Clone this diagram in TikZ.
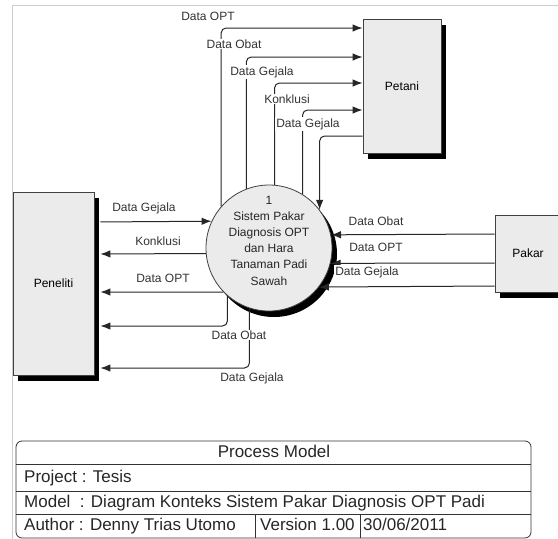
\documentclass[tikz,border=0pt]{standalone}
\usepackage{fontspec}
\setmainfont{Liberation Sans}
\usetikzlibrary{arrows.meta,shadows}

\begin{document}
\begin{tikzpicture}[x=1pt,y=-1pt,
	entitas/.style={draw=black!75,fill=black!8,line width=0.8pt,font=\fontsize{12}{14}\selectfont,
		drop shadow={shadow xshift=5pt,shadow yshift=-6pt,fill=black,opacity=1}},
	proses/.style={circle,draw=black!75,fill=black!8,line width=0.8pt,minimum size=126pt,inner sep=0pt,
		drop shadow={shadow xshift=5pt,shadow yshift=-6pt,fill=black,opacity=1}},
	prosesteks/.style={align=center,inner sep=0pt,font=\fontsize{12}{16.2}\selectfont,text=black!85},
	aliran/.style={draw=black!85,line width=1pt,rounded corners=5pt,-{Latex[length=10pt,width=7.5pt]}},
	ket/.style={fill=white,inner sep=1pt,font=\fontsize{12}{14}\selectfont,text=black!80},
	baris/.style={anchor=west,inner sep=0pt,text height=12.2pt,text depth=2.6pt,
		font=\fontsize{17}{20}\selectfont,text=black!85}]
				\useasboundingbox (0,0) rectangle (558,539);
				\draw[black!20,line width=1pt] (12,539) -- (12,5) -- (558,5);
				
				\node[entitas,minimum width=81pt,minimum height=183pt] (peneliti) at (53.5,283.5) {Peneliti};
				\node[entitas,minimum width=78pt,minimum height=134pt] (petani) at (402,86) {Petani};
				\node[entitas,minimum width=66pt,minimum height=77pt] (pakar) at (528,253.5) {Pakar};
				\node[proses] (sistem) at (269,248) {};
				\node[prosesteks] (sistemteks) at (269,240.5) {1\\Sistem Pakar\\Diagnosis OPT\\dan Hara\\Tanaman Padi\\Sawah};
				
				% ke dan dari petani
				\draw[aliran] (sistem.139.6) |- (petani.west |- 0,28);
				\draw[aliran] (sistem.111.4) |- (petani.west |- 0,57);
				\draw[aliran] (sistem.85.4) |- (petani.west |- 0,83);
				\draw[aliran] (sistem.58.4) |- (petani.west |- 0,110);
				\draw[aliran] (petani.west |- 0,136) -| (sistem.37.5);
				
				% ke dan dari peneliti
				\draw[aliran,shorten <=6pt] (peneliti.east |- 0,222) -- (sistem.155.6);
				\draw[aliran,shorten >=6pt] (sistem.185.5) -- (peneliti.east |- 0,254);
				\draw[aliran,shorten >=6pt] (sistem.224.3) -- (peneliti.east |- 0,292);
				\draw[aliran,shorten >=6pt] (sistem.229.4) |- (peneliti.east |- 0,326);
				\draw[aliran,shorten >=6pt] (sistem.252.5) |- (peneliti.east |- 0,368);
				
				% dari pakar
				\draw[aliran] (pakar.west |- 0,234) -- (sistem.12.8);
				\draw[aliran] (pakar.west |- 0,263) -- (sistem.346.2);
				\draw[aliran] (pakar.west |- 0,286) -- (sistem.322.9);
				
				\node[ket] (ptOPT) at (208,16) {Data OPT};
				\node[ket] (ptObat) at (234,44) {Data Obat};
				\node[ket] (ptGejala) at (262,72) {Data Gejala};
				\node[ket] (ptKonklusi) at (287,99) {Konklusi};
				\node[ket] (tpGejala) at (308,124) {Data Gejala};
				\node[ket] (plGejala) at (144,208) {Data Gejala};
				\node[ket] (lpKonklusi) at (158,241) {Konklusi};
				\node[ket] (lpOPT) at (163,278) {Data OPT};
				\node[ket] (lpObat) at (239,335) {Data Obat};
				\node[ket] (lpGejala) at (252,378) {Data Gejala};
				\node[ket] (kpObat) at (376,221) {Data Obat};
				\node[ket] (kpOPT) at (376,247) {Data OPT};
				\node[ket] (kpGejala) at (367,272) {Data Gejala};
				
				% kotak judul
				\draw[black!80,line width=0.8pt,rounded corners=6pt] (16,441) rectangle (531,538);
				\draw[black!80,line width=0.8pt] (16,464) -- (531,464) (16,491) -- (531,491) (16,514) -- (531,514)
					(255,514) -- (255,538) (360,514) -- (360,538);
				\node[baris,anchor=center] (judul) at (274,452.5) {Process Model};
				\node[baris] (proyek) at (24,477.5) {Project : Tesis};
				\node[baris] (model) at (24,502.5) {Model\ \ : Diagram Konteks Sistem Pakar Diagnosis OPT Padi};
				\node[baris] (penulis) at (24,526) {Author : Denny Trias Utomo};
				\node[baris] (versi) at (260,526) {Version 1.00};
				\node[baris] (tanggal) at (363,526) {30/06/2011};
			\end{tikzpicture}
\end{document}
